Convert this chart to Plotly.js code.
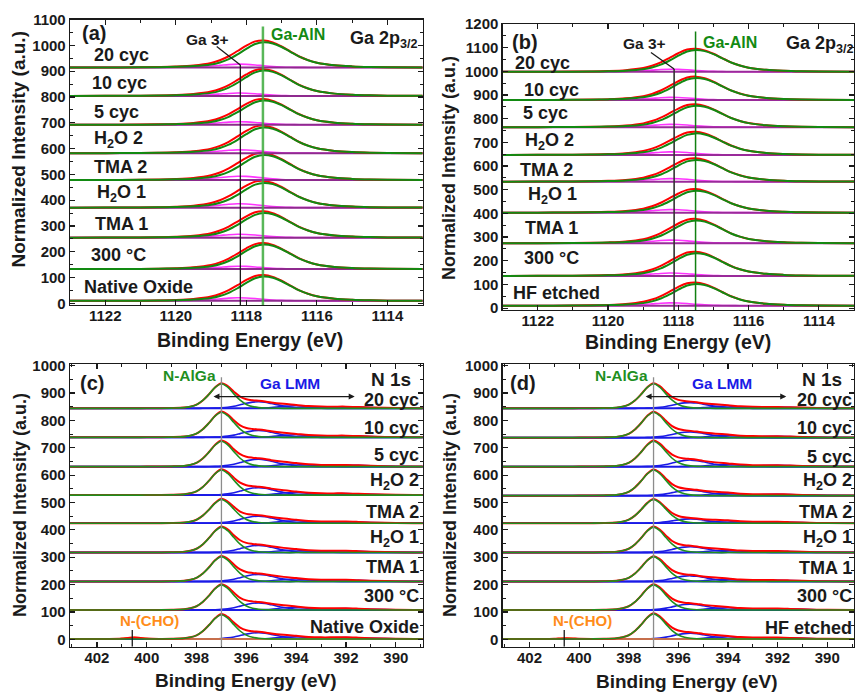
<!DOCTYPE html>
<html>
<head>
<meta charset="utf-8">
<script src="https://cdn.plot.ly/plotly-3.0.1.min.js"></script>
<style>
  html, body { margin: 0; padding: 0; background: #ffffff; }
  #chart { width: 855px; height: 694px; }
</style>
</head>
<body>
<div id="chart"></div>
<script>
// ---------------- Ga 2p3/2 region (panels a, b) ----------------
const gaEnergy = [1123, 1122, 1121, 1120.5, 1120, 1119.5, 1119, 1118.75, 1118.5, 1118.25, 1118, 1117.75,
                  1117.5, 1117.25, 1117, 1116.75, 1116.5, 1116.25, 1116, 1115.5, 1115, 1114.5, 1114, 1113];
// relative line shapes of the two fitted components
const gaAlnProfile = [0, 0.003, 0.008, 0.015, 0.028, 0.055, 0.12, 0.2, 0.33, 0.52, 0.74, 0.93,
                      1, 0.95, 0.81, 0.62, 0.43, 0.29, 0.19, 0.09, 0.045, 0.022, 0.01, 0.003];
const ga3Profile   = [0, 0, 0.01, 0.03, 0.07, 0.18, 0.45, 0.65, 0.87, 1.0, 0.95, 0.77,
                      0.52, 0.3, 0.16, 0.08, 0.04, 0.02, 0.01, 0, 0, 0, 0, 0];

const gaLabelsA    = ['Native Oxide', '300 °C', 'TMA 1', 'H<sub>2</sub>O 1', 'TMA 2', 'H<sub>2</sub>O 2', '5 cyc', '10 cyc', '20 cyc'];
const gaBaseA      = [10, 133, 255, 371, 478, 582, 692, 804, 914];
const gaAlnHeightA = [94, 95, 95, 96, 97, 100, 94, 98, 98];
const ga3HeightA   = [12, 11, 13, 15, 15, 13, 12, 11, 13];

const gaLabelsB    = ['HF etched', '300 °C', 'TMA 1', 'H<sub>2</sub>O 1', 'TMA 2', 'H<sub>2</sub>O 2', '5 cyc', '10 cyc', '20 cyc'];
const gaBaseB      = [10, 136, 274, 403, 534, 647, 764, 879, 998];
const gaAlnHeightB = [92, 96, 96, 93, 92, 91, 91, 93, 92];
const ga3HeightB   = [12, 12, 13, 13, 13, 13, 12, 11, 11];

// ---------------- N 1s region (panels c, d) ----------------
const nEnergy = [403.1, 402, 401.5, 401, 400.75, 400.5, 400.25, 400, 399.5, 399, 398.5, 398.25, 398,
                 397.75, 397.5, 397.25, 397, 396.75, 396.5, 396.25, 396, 395.75, 395.5, 395.25, 395,
                 394.5, 394, 393.5, 393, 392.5, 392, 391.5, 391, 390, 388.9];
const nAlGaProfile = [0, 0, 0, 0, 0, 0, 0, 0.002, 0.004, 0.01, 0.03, 0.07, 0.15,
                      0.32, 0.57, 0.85, 1, 0.86, 0.59, 0.33, 0.16, 0.07, 0.03, 0.012, 0.005,
                      0, 0, 0, 0, 0, 0, 0, 0, 0, 0];
const lmm1Profile  = [0, 0, 0, 0, 0, 0, 0, 0, 0, 0, 0, 0, 0,
                      0.005, 0.015, 0.04, 0.09, 0.18, 0.33, 0.55, 0.78, 0.95, 1.0, 0.92, 0.74,
                      0.35, 0.1, 0.02, 0.005, 0, 0, 0, 0, 0, 0];
const lmm2Profile  = [0, 0, 0, 0, 0, 0, 0, 0, 0, 0, 0, 0, 0,
                      0, 0, 0, 0, 0, 0, 0, 0.02, 0.05, 0.1, 0.18, 0.32,
                      0.78, 0.95, 0.6, 0.28, 0.1, 0.03, 0.01, 0, 0, 0];
const lmm3Profile  = [0, 0, 0, 0, 0, 0, 0, 0, 0, 0, 0, 0, 0,
                      0, 0, 0, 0, 0, 0, 0, 0, 0, 0, 0, 0,
                      0.04, 0.12, 0.3, 0.58, 0.88, 1.0, 0.82, 0.55, 0.15, 0.02];
const nchoProfile  = [0, 0, 0.02, 0.3, 0.7, 1, 0.7, 0.3, 0.03, 0, 0, 0, 0,
                      0, 0, 0, 0, 0, 0, 0, 0, 0, 0, 0, 0,
                      0, 0, 0, 0, 0, 0, 0, 0, 0, 0];

const nLabelsC      = ['Native Oxide', '300 °C', 'TMA 1', 'H<sub>2</sub>O 1', 'TMA 2', 'H<sub>2</sub>O 2', '5 cyc', '10 cyc', '20 cyc'];
const nBaseC        = [1, 107, 211, 317, 424, 527, 631, 738, 844];
const nAlGaHeightC  = [89, 92, 91, 93, 87, 92, 93, 92, 90];
const lmm1HeightC   = [23, 26, 26, 26, 26, 27, 27, 25, 24];
const lmm2HeightC   = [9, 10, 10, 10, 10, 10, 10, 10, 10];
const lmm3HeightC   = [6, 6, 6, 6, 6, 6, 6, 6, 6];
const nchoHeightC   = [6, 0, 0, 0, 0, 0, 0, 0, 0];

const nLabelsD      = ['HF etched', '300 °C', 'TMA 1', 'H<sub>2</sub>O 1', 'TMA 2', 'H<sub>2</sub>O 2', '5 cyc', '10 cyc', '20 cyc'];
const nBaseD        = [1, 107, 211, 317, 424, 525, 631, 737, 844];
const nAlGaHeightD  = [92, 92, 91, 93, 87, 94, 93, 93, 90];
const lmm1HeightD   = [21, 21, 21, 21, 16, 20, 24, 21, 21];
const lmm2HeightD   = [9, 9, 9, 9, 9, 9, 9, 9, 9];
const lmm3HeightD   = [5, 5, 5, 5, 5, 5, 5, 5, 5];
const nchoHeightD   = [3, 0, 0, 0, 0, 0, 0, 0, 0];

// ---------------- helpers ----------------
const FONT = 'Liberation Sans, Arial, sans-serif';
const traces = [];

function combine(base, parts) {
  // base level plus a weighted sum of component shapes
  return parts[0][1].map((_, k) => parts.reduce((s, [h, p]) => s + h * p[k], base));
}

function curve(xs, ys, color, width, n) {
  traces.push({
    type: 'scatter', mode: 'lines', x: xs, y: ys,
    line: { color: color, width: width, shape: 'spline', smoothing: 0.9 },
    xaxis: 'x' + n, yaxis: 'y' + n, hoverinfo: 'skip', showlegend: false
  });
}

function gaPanel(n, bases, alnH, ga3H, baseColor) {
  const xr = [gaEnergy[0], gaEnergy[gaEnergy.length - 1]];
  bases.forEach((b, i) => {
    curve(gaEnergy, combine(b, [[ga3H[i], ga3Profile]]), '#ff33ff', 1.6, n);
    curve(xr, [b, b], baseColor, 2, n);
    curve(gaEnergy, combine(b, [[alnH[i], gaAlnProfile], [ga3H[i], ga3Profile]]), '#ff0000', 2, n);
    curve(gaEnergy, combine(b, [[alnH[i], gaAlnProfile]]), '#128a12', 2, n);
  });
}

function nPanel(n, bases, mainH, l1, l2, l3, cho) {
  const xr = [nEnergy[0], nEnergy[nEnergy.length - 1]];
  bases.forEach((b, i) => {
    curve(xr, [b, b], '#1010e0', 1.6, n);
    curve(nEnergy, combine(b, [[l3[i], lmm3Profile]]), '#1a1ae6', 1.4, n);
    curve(nEnergy, combine(b, [[l2[i], lmm2Profile]]), '#1a1ae6', 1.4, n);
    curve(nEnergy, combine(b, [[l1[i], lmm1Profile]]), '#1a1ae6', 1.6, n);
    if (cho[i] > 0) curve(nEnergy, combine(b, [[cho[i], nchoProfile]]), '#ff8c1a', 1.6, n);
    curve(nEnergy, combine(b, [[mainH[i], nAlGaProfile], [l1[i], lmm1Profile], [l2[i], lmm2Profile],
                               [l3[i], lmm3Profile], [cho[i], nchoProfile]]), '#ff0000', 2, n);
    curve(nEnergy, combine(b, [[mainH[i], nAlGaProfile]]), '#1f8f1f', 1.6, n);
  });
}

gaPanel('', gaBaseA, gaAlnHeightA, ga3HeightA, '#8e2a8e');
gaPanel('2', gaBaseB, gaAlnHeightB, ga3HeightB, '#9a2a9a');
nPanel('3', nBaseC, nAlGaHeightC, lmm1HeightC, lmm2HeightC, lmm3HeightC, nchoHeightC);
nPanel('4', nBaseD, nAlGaHeightD, lmm1HeightD, lmm2HeightD, lmm3HeightD, nchoHeightD);

// ---------------- axes ----------------
const W = 855, H = 694;
const px = (a, b) => [a / W, b / W];
const py = (top, bottom) => [(H - bottom) / H, (H - top) / H];
const TICKFONT = { family: FONT, size: 15, color: '#1a1a1a', weight: 'bold' };

function axis(extra) {
  return Object.assign({
    showline: true, linecolor: '#1a1a1a', linewidth: 1.3, mirror: 'ticks',
    ticks: 'inside', ticklen: 5, tickwidth: 1.2, tickcolor: '#1a1a1a',
    showgrid: false, zeroline: false, fixedrange: true,
    tickfont: TICKFONT
  }, extra);
}
function minor(dtick, tick0) {
  return { ticks: 'inside', ticklen: 3, tickwidth: 1, tickcolor: '#1a1a1a', dtick: dtick, tick0: tick0, showgrid: false };
}
function gaX(dom, anchor) {
  return axis({ domain: dom, anchor: anchor, range: [1123, 1113], tick0: 1114, dtick: 2,
                minor: minor(1, 1113), ticklabelstandoff: -3 });
}
function nX(dom, anchor) {
  return axis({ domain: dom, anchor: anchor, range: [403.08, 388.92], tick0: 390, dtick: 2,
                minor: minor(1, 389), ticklabelstandoff: -3 });
}
function yAx(dom, anchor, range) {
  return axis({ domain: dom, anchor: anchor, range: range, tick0: 0, dtick: 100,
                minor: minor(50, 0), ticklabelstandoff: 0 });
}

const layout = {
  width: W, height: H,
  margin: { l: 0, r: 0, t: 0, b: 0 },
  paper_bgcolor: '#ffffff', plot_bgcolor: '#ffffff',
  showlegend: false,
  font: { family: FONT, color: '#1a1a1a' },
  xaxis:  gaX(px(70, 422.7), 'y'),
  yaxis:  yAx(py(19.5, 305), 'x', [-6, 1100]),
  xaxis2: gaX(px(502.7, 854), 'y2'),
  yaxis2: yAx(py(24, 310), 'x2', [-8, 1200]),
  xaxis3: nX(px(70, 422.7), 'y3'),
  yaxis3: yAx(py(364.3, 646.7), 'x3', [-27, 1005]),
  xaxis4: nX(px(502.7, 854), 'y4'),
  yaxis4: yAx(py(364.3, 646.7), 'x4', [-27, 1005]),
  shapes: [],
  annotations: []
};

const S = layout.shapes, A = layout.annotations;
function seg(n, x0, y0, x1, y1, color, width) {
  S.push({ type: 'line', xref: 'x' + n, yref: 'y' + n, x0: x0, y0: y0, x1: x1, y1: y1,
           line: { color: color, width: width } });
}
function fnt(size, color) { return { family: FONT, size: size, color: color || '#1a1a1a', weight: 'bold' }; }
function note(n, text, x, y, opts) {
  A.push(Object.assign({ xref: 'x' + n, yref: 'y' + n, x: x, y: y, text: text, showarrow: false,
    font: fnt(18) }, opts || {}));
}

// panel (a) markers and labels
seg('', 1117.53, -6, 1117.53, 1073, 'rgba(60,170,60,0.85)', 2.5);
seg('', 1118.17, -6, 1118.17, 924, '#1a1a1a', 1.3);
seg('', 1118.84, 995, 1118.17, 924, '#1a1a1a', 1.3);
note('', '(a)', 1122.72, 1048, { xanchor: 'left', font: fnt(20) });
note('', 'Ga 3+', 1119.09, 1021, { font: fnt(15.5) });
note('', 'Ga-AlN', 1116.54, 1040, { font: fnt(16, '#138a13') });
note('', 'Ga 2p<sub>3/2</sub>', 1115.12, 1021, { xanchor: 'left', font: fnt(18) });
const labelXA = [1122.66, 1122.45, 1122.34, 1122.29, 1122.39, 1122.39, 1122.39, 1122.43, 1122.39];
const labelYA = [65, 188, 308, 425, 529, 637, 742, 855, 963];
gaLabelsA.forEach((t, i) => note('', t, labelXA[i], labelYA[i], { xanchor: 'left' }));

// panel (b) markers and labels
seg('2', 1117.51, -8, 1117.51, 1168, '#118011', 1.5);
seg('2', 1118.12, -8, 1118.12, 1010, '#333333', 1.6);
seg('2', 1118.78, 1080, 1118.12, 1010, '#1a1a1a', 1.3);
note('2', '(b)', 1122.79, 1124, { xanchor: 'left', font: fnt(20) });
note('2', 'Ga 3+', 1118.95, 1118, { font: fnt(15.5) });
note('2', 'Ga-AlN', 1116.52, 1122, { font: fnt(16, '#138a13') });
note('2', 'Ga 2p<sub>3/2</sub>', 1115.0, 1112, { xanchor: 'left', font: fnt(18) });
const labelXB = [1122.77, 1122.46, 1122.43, 1122.34, 1122.56, 1122.41, 1122.49, 1122.46, 1122.7];
const labelYB = [63, 211, 338, 475, 584, 702, 823, 922, 1034];
gaLabelsB.forEach((t, i) => note('2', t, labelXB[i], labelYB[i], { xanchor: 'left' }));

// panels (c), (d) markers and labels
const labelYC = [44, 158, 265, 367, 466, 577, 674, 771, 875];
const labelYD = [40, 158, 259, 367, 466, 577, 667, 773, 875];
[['3', '(c)', nLabelsC, labelYC, 388.97, 402.75, 400.58],
 ['4', '(d)', nLabelsD, labelYD, 388.92, 402.86, 400.6]].forEach(([n, tag, labels, ly, rx, tx, chox]) => {
  seg(n, 397.0, -27, 397.0, 958, '#8c8c8c', 1.3);
  seg(n, chox, -27, chox, 34, '#1a1a1a', 1.3);
  note(n, tag, tx, 936, { xanchor: 'left', font: fnt(20) });
  note(n, 'N-AlGa', 398.3, 963, { font: fnt(15.5, '#1f8f1f') });
  note(n, 'Ga LMM', 394.24, 936, { font: fnt(15.5, '#1a1ae6') });
  note(n, 'N 1s', 389.32, 950, { xanchor: 'right', font: fnt(19) });
  note(n, 'N-(CHO)', 399.87, 70, { font: fnt(15, '#ff8c1a') });
  A.push({ xref: 'x' + n, yref: 'y' + n, axref: 'x' + n, ayref: 'y' + n,
           x: 391.65, y: 887, ax: 397.38, ay: 887, text: '', showarrow: true,
           arrowhead: 2, arrowside: 'end+start', arrowsize: 1, arrowwidth: 1.2, arrowcolor: '#1a1a1a' });
  labels.forEach((t, i) => note(n, t, rx, ly[i], { xanchor: 'right' }));
});

// axis titles
function title(text, x, y, size, angle) {
  A.push({ xref: 'paper', yref: 'paper', x: x / W, y: (H - y) / H, text: text, showarrow: false,
           textangle: angle || 0, xanchor: 'center', yanchor: 'middle', font: fnt(size) });
}
title('Binding Energy (eV)', 250, 340, 19.5);
title('Binding Energy (eV)', 678, 342, 19.5);
title('Binding Energy (eV)', 246, 680, 19);
title('Binding Energy (eV)', 687, 681, 19);
title('Normalized Intensity (a.u.)', 17.5, 150, 19, -90);
title('Normalized Intensity (a.u.)', 449, 168, 18, -90);
title('Normalized Intensity (a.u.)', 20, 505, 18, -90);
title('Normalized Intensity (a.u.)', 450, 505, 18, -90);

Plotly.newPlot('chart', traces, layout, { staticPlot: true, displayModeBar: false });
</script>
</body>
</html>
